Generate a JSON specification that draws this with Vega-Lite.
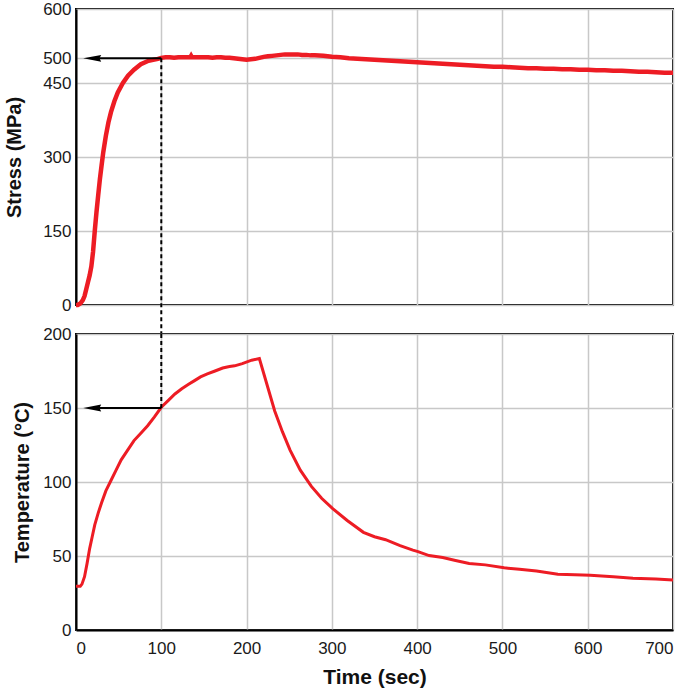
{
  "$schema": "https://vega.github.io/schema/vega-lite/v6.json",
  "background": "white",
  "padding": {"left": 3, "top": -1, "right": 0, "bottom": 0},
  "config": {
    "font": "Liberation Sans",
    "view": {"stroke": "black", "strokeWidth": 2},
    "axis": {
      "labelFont": "Liberation Sans",
      "labelFontSize": 17,
      "labelColor": "#1a1a1a",
      "titleFont": "Liberation Sans",
      "titleFontSize": 20,
      "titleFontWeight": "bold",
      "titleColor": "#111111",
      "gridColor": "#c8c8c8",
      "gridWidth": 1.5,
      "domainColor": "black",
      "domainWidth": 2,
      "ticks": false,
      "labelPadding": 5
    }
  },
  "datasets": {
    "stress": [
      {"t": 0, "v": 0}, {"t": 2, "v": 0}, {"t": 5, "v": 3}, {"t": 8, "v": 10}, {"t": 10, "v": 18},
      {"t": 12, "v": 32}, {"t": 14, "v": 46}, {"t": 16, "v": 60}, {"t": 18, "v": 78}, {"t": 20, "v": 108},
      {"t": 22, "v": 150}, {"t": 24, "v": 188}, {"t": 26, "v": 222}, {"t": 28, "v": 255}, {"t": 30, "v": 283},
      {"t": 32, "v": 310}, {"t": 35, "v": 343}, {"t": 38, "v": 370}, {"t": 41, "v": 391}, {"t": 45, "v": 413},
      {"t": 49, "v": 431}, {"t": 55, "v": 450}, {"t": 61, "v": 465}, {"t": 68, "v": 477}, {"t": 76, "v": 488},
      {"t": 85, "v": 495}, {"t": 96, "v": 499}, {"t": 100, "v": 501}, {"t": 105, "v": 502}, {"t": 110, "v": 502},
      {"t": 115, "v": 501}, {"t": 120, "v": 502}, {"t": 125, "v": 502}, {"t": 130, "v": 502}, {"t": 134, "v": 502},
      {"t": 135, "v": 505}, {"t": 136, "v": 502}, {"t": 145, "v": 502}, {"t": 150, "v": 502}, {"t": 155, "v": 502},
      {"t": 160, "v": 501}, {"t": 165, "v": 502}, {"t": 170, "v": 502}, {"t": 175, "v": 501}, {"t": 180, "v": 501},
      {"t": 185, "v": 500}, {"t": 190, "v": 499}, {"t": 195, "v": 498}, {"t": 200, "v": 497}, {"t": 205, "v": 498},
      {"t": 210, "v": 499}, {"t": 215, "v": 501}, {"t": 220, "v": 503}, {"t": 225, "v": 504}, {"t": 230, "v": 505},
      {"t": 235, "v": 506}, {"t": 240, "v": 507}, {"t": 245, "v": 508}, {"t": 250, "v": 508}, {"t": 255, "v": 508},
      {"t": 260, "v": 508}, {"t": 265, "v": 507}, {"t": 270, "v": 507}, {"t": 275, "v": 506}, {"t": 280, "v": 506},
      {"t": 290, "v": 505}, {"t": 300, "v": 503}, {"t": 310, "v": 502}, {"t": 320, "v": 500}, {"t": 330, "v": 499},
      {"t": 340, "v": 498}, {"t": 350, "v": 497}, {"t": 360, "v": 496}, {"t": 370, "v": 495}, {"t": 380, "v": 494},
      {"t": 390, "v": 493}, {"t": 400, "v": 492}, {"t": 410, "v": 491}, {"t": 420, "v": 490}, {"t": 430, "v": 489},
      {"t": 440, "v": 488}, {"t": 450, "v": 487}, {"t": 460, "v": 486}, {"t": 470, "v": 485}, {"t": 480, "v": 484},
      {"t": 490, "v": 483}, {"t": 500, "v": 483}, {"t": 510, "v": 482}, {"t": 520, "v": 481}, {"t": 530, "v": 480},
      {"t": 540, "v": 480}, {"t": 550, "v": 479}, {"t": 560, "v": 479}, {"t": 570, "v": 478}, {"t": 580, "v": 478},
      {"t": 590, "v": 477}, {"t": 600, "v": 477}, {"t": 610, "v": 476}, {"t": 620, "v": 476}, {"t": 630, "v": 475},
      {"t": 640, "v": 475}, {"t": 650, "v": 474}, {"t": 660, "v": 473}, {"t": 670, "v": 473}, {"t": 680, "v": 472},
      {"t": 690, "v": 471}, {"t": 700, "v": 471}
    ],
    "temp": [
      {"t": 0, "v": 29.5}, {"t": 5, "v": 29.5}, {"t": 7, "v": 31}, {"t": 10, "v": 36}, {"t": 13, "v": 45},
      {"t": 16, "v": 55}, {"t": 19, "v": 63}, {"t": 22, "v": 71}, {"t": 26, "v": 79}, {"t": 30, "v": 86},
      {"t": 35, "v": 94}, {"t": 41, "v": 101}, {"t": 47, "v": 108}, {"t": 53, "v": 115}, {"t": 60, "v": 121},
      {"t": 68, "v": 128}, {"t": 76, "v": 133}, {"t": 84, "v": 138}, {"t": 92, "v": 144}, {"t": 100, "v": 150.5},
      {"t": 108, "v": 155}, {"t": 116, "v": 159.5}, {"t": 124, "v": 163}, {"t": 132, "v": 166}, {"t": 139, "v": 168.5},
      {"t": 146, "v": 171}, {"t": 154, "v": 173}, {"t": 163, "v": 175}, {"t": 172, "v": 177}, {"t": 180, "v": 178},
      {"t": 186, "v": 178.5}, {"t": 195, "v": 180}, {"t": 206, "v": 182.3}, {"t": 215, "v": 183.4}, {"t": 233, "v": 148},
      {"t": 242, "v": 134}, {"t": 251, "v": 121.5}, {"t": 263, "v": 108}, {"t": 276, "v": 97}, {"t": 288, "v": 89},
      {"t": 301, "v": 82}, {"t": 318, "v": 74}, {"t": 337, "v": 66}, {"t": 350, "v": 63}, {"t": 363, "v": 61},
      {"t": 380, "v": 57}, {"t": 395, "v": 54}, {"t": 401, "v": 53}, {"t": 414, "v": 50.3}, {"t": 430, "v": 49},
      {"t": 445, "v": 47}, {"t": 461, "v": 45}, {"t": 480, "v": 44}, {"t": 502, "v": 42}, {"t": 520, "v": 41},
      {"t": 540, "v": 39.8}, {"t": 565, "v": 37.6}, {"t": 585, "v": 37.3}, {"t": 603, "v": 37}, {"t": 630, "v": 36},
      {"t": 653, "v": 35}, {"t": 680, "v": 34.4}, {"t": 700, "v": 33.8}
    ]
  },
  "spacing": 29,
  "bounds": "flush",
  "vconcat": [
    {
      "width": 597,
      "height": 296,
      "layer": [
        {
          "data": {"name": "stress"},
          "mark": {"type": "line", "color": "#ed1c24", "strokeWidth": 4.5},
          "encoding": {
            "x": {"field": "t", "type": "quantitative", "scale": {"domain": [0, 700]},
                  "axis": {"values": [0, 100, 200, 300, 400, 500, 600, 700], "labels": false, "domain": false, "title": null}},
            "y": {"field": "v", "type": "quantitative", "scale": {"domain": [0, 600]},
                  "axis": {"values": [0, 150, 300, 450, 500, 600], "title": "Stress (MPa)", "titlePadding": 18}}
          }
        },
        {
          "data": {"values": [{"t": 100, "v": 500, "v2": -59}]},
          "mark": {"type": "rule", "color": "black", "strokeWidth": 2, "strokeDash": [4, 3]},
          "encoding": {
            "x": {"field": "t", "type": "quantitative"},
            "y": {"field": "v", "type": "quantitative"},
            "y2": {"field": "v2"}
          }
        },
        {
          "data": {"values": [{"t": 100, "t2": 26, "v": 500}]},
          "mark": {"type": "rule", "color": "black", "strokeWidth": 2},
          "encoding": {
            "x": {"field": "t", "type": "quantitative"},
            "x2": {"field": "t2"},
            "y": {"field": "v", "type": "quantitative"}
          }
        },
        {
          "data": {"values": [{"t": 19, "v": 500}]},
          "mark": {"type": "point", "shape": "M-1,0L1,-0.38L0.8,0L1,0.38Z", "filled": true, "color": "black", "opacity": 1, "size": 324},
          "encoding": {
            "x": {"field": "t", "type": "quantitative"},
            "y": {"field": "v", "type": "quantitative"}
          }
        }
      ]
    },
    {
      "width": 597,
      "height": 296,
      "layer": [
        {
          "data": {"name": "temp"},
          "mark": {"type": "line", "color": "#ed1c24", "strokeWidth": 3},
          "encoding": {
            "x": {"field": "t", "type": "quantitative", "scale": {"domain": [0, 700]},
                  "axis": {"values": [0, 100, 200, 300, 400, 500, 600, 700], "title": "Time (sec)", "titlePadding": 10, "labelPadding": 10, "titleFontSize": 21}},
            "y": {"field": "v", "type": "quantitative", "scale": {"domain": [0, 200]},
                  "axis": {"values": [0, 50, 100, 150, 200], "title": "Temperature (°C)", "titlePadding": 10}}
          }
        },
        {
          "data": {"values": [{"t": 100, "v": 150, "v2": 200}]},
          "mark": {"type": "rule", "color": "black", "strokeWidth": 2, "strokeDash": [4, 3]},
          "encoding": {
            "x": {"field": "t", "type": "quantitative"},
            "y": {"field": "v", "type": "quantitative"},
            "y2": {"field": "v2"}
          }
        },
        {
          "data": {"values": [{"t": 100, "t2": 26, "v": 150}]},
          "mark": {"type": "rule", "color": "black", "strokeWidth": 2},
          "encoding": {
            "x": {"field": "t", "type": "quantitative"},
            "x2": {"field": "t2"},
            "y": {"field": "v", "type": "quantitative"}
          }
        },
        {
          "data": {"values": [{"t": 19, "v": 150}]},
          "mark": {"type": "point", "shape": "M-1,0L1,-0.38L0.8,0L1,0.38Z", "filled": true, "color": "black", "opacity": 1, "size": 324},
          "encoding": {
            "x": {"field": "t", "type": "quantitative"},
            "y": {"field": "v", "type": "quantitative"}
          }
        }
      ]
    }
  ]
}
